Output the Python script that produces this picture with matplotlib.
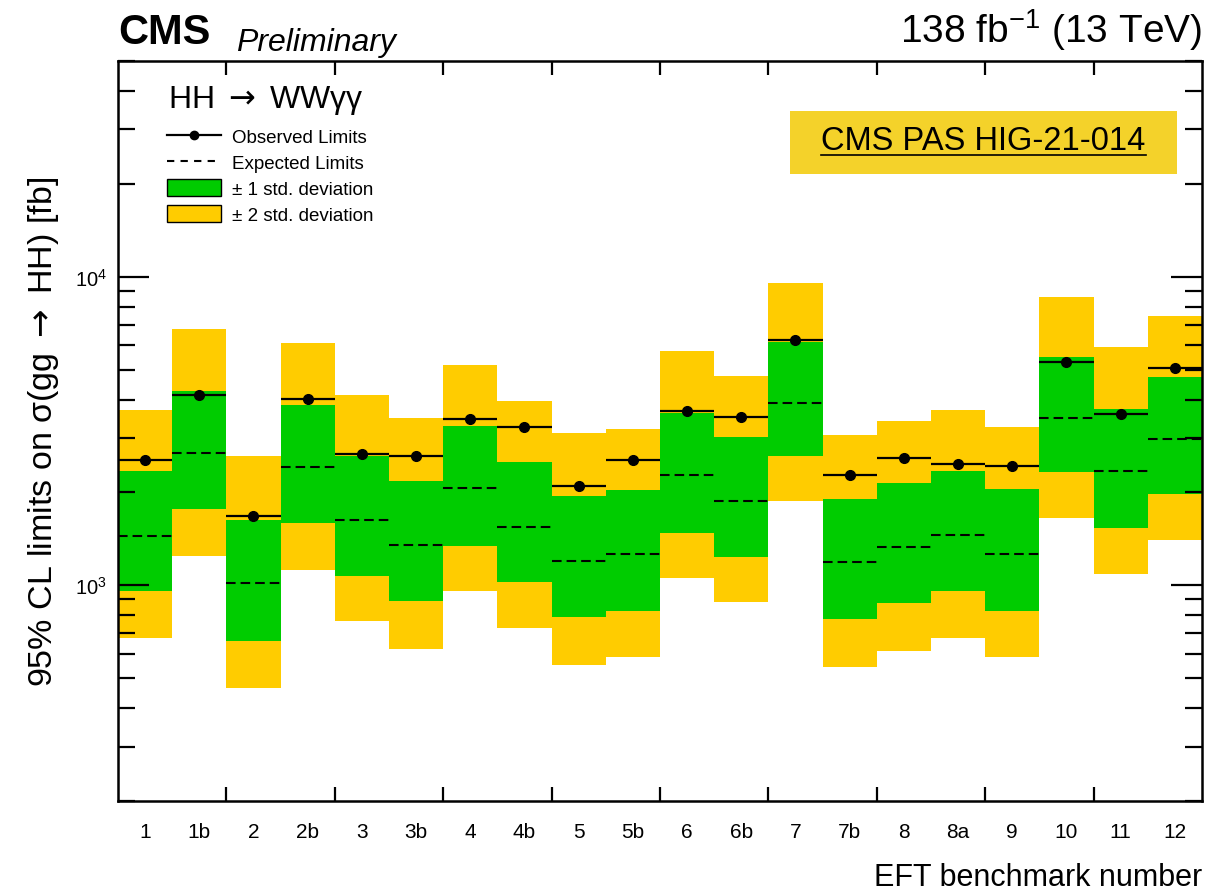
import numpy as np
import matplotlib
matplotlib.use('Agg')
from matplotlib import pyplot as plt
from matplotlib.lines import Line2D
from matplotlib.patches import Patch, Rectangle
from matplotlib.ticker import FixedLocator, NullFormatter, LogLocator

plt.rcParams['font.family'] = ['Liberation Sans', 'DejaVu Sans']
plt.rcParams['mathtext.fontset'] = 'custom'
plt.rcParams['mathtext.rm'] = 'Liberation Sans'
plt.rcParams['mathtext.it'] = 'Liberation Sans:italic'
plt.rcParams['mathtext.sf'] = 'DejaVu Sans'

# EFT benchmark limits [fb]
benchmarks = ['1', '1b', '2', '2b', '3', '3b', '4', '4b', '5', '5b',
              '6', '6b', '7', '7b', '8', '8a', '9', '10', '11', '12']
observed = [2540, 4130, 1675, 4010, 2670, 2620, 3450, 3260, 2100, 2540,
            3660, 3500, 6220, 2270, 2590, 2480, 2430, 5290, 3600, 5070]
expected = [1450, 2690, 1020, 2420, 1630, 1350, 2060, 1550, 1200, 1260,
            2270, 1880, 3890, 1190, 1330, 1460, 1260, 3490, 2350, 2990]
one_sigma_lo = [956, 1761, 658, 1594, 1070, 887, 1339, 1023, 790, 828,
                1480, 1233, 2617, 778, 874, 956, 828, 2334, 1531, 1975]
one_sigma_hi = [2345, 4255, 1634, 3841, 2623, 2176, 3292, 2502, 1941, 2034,
                3610, 3024, 6151, 1908, 2139, 2352, 2056, 5514, 3720, 4724]
two_sigma_lo = [675, 1249, 464, 1124, 764, 623, 956, 727, 553, 584,
                1057, 881, 1879, 543, 614, 673, 584, 1650, 1091, 1407]
two_sigma_hi = [3711, 6764, 2623, 6090, 4140, 3477, 5157, 3949, 3108, 3219,
                5738, 4785, 9539, 3062, 3407, 3711, 3258, 8575, 5912, 7436]

GREEN = '#00cc00'
YELLOW = '#ffcc00'
ARROW = r'$\mathsf{\rightarrow}$'

n = len(benchmarks)
edges = np.arange(n + 1)
centers = edges[:-1] + 0.5

fig = plt.figure(figsize=(12.25, 8.95), dpi=100)
ax = fig.add_axes([0.0963, 0.1039, 0.8849, 0.8268])

# bands
ax.stairs(two_sigma_hi, edges, baseline=two_sigma_lo, fill=True, color=YELLOW, lw=0)
ax.stairs(one_sigma_hi, edges, baseline=one_sigma_lo, fill=True, color=GREEN, lw=0)

# expected and observed
ax.hlines(expected, edges[:-1], edges[1:], colors='k', lw=1.5, linestyles=(0, (4.6, 2.4)))
ax.hlines(observed, edges[:-1], edges[1:], colors='k', lw=1.6)
ax.plot(centers, observed, 'o', color='k', ms=7)

ax.set_yscale('log')
ax.set_ylim(200, 50000)
ax.set_xlim(0, n)

# axis ticks, ROOT style (inward on all sides)
ax.xaxis.set_major_locator(FixedLocator(edges[2:-1:2]))
ax.xaxis.set_major_formatter(NullFormatter())
ax.set_xticks(centers, benchmarks, minor=True)
ax.tick_params(axis='x', which='major', direction='in', length=10, width=1.6,
               top=True, bottom=True)
ax.tick_params(axis='x', which='minor', length=0, pad=15, labelsize=15)
ax.yaxis.set_minor_locator(LogLocator(base=10, subs=np.arange(2, 10)))
ax.yaxis.set_minor_formatter(NullFormatter())
ax.tick_params(axis='y', which='major', direction='in', length=22, width=1.6,
               left=True, right=True, pad=8, labelsize=14.5)
ax.tick_params(axis='y', which='minor', direction='in', length=12, width=1.6,
               left=True, right=True)
for s in ax.spines.values():
    s.set_linewidth(1.8)

ax.set_ylabel('95% CL limits on σ(gg ' + ARROW + ' HH) [fb]', fontsize=24.5, labelpad=10)
ax.set_xlabel('EFT benchmark number', fontsize=22, loc='right', labelpad=15)

# header
ax.text(0.0, 1.012, 'CMS', transform=ax.transAxes, fontsize=30, fontweight='bold',
        ha='left', va='bottom')
ax.text(0.109, 1.006, 'Preliminary', transform=ax.transAxes, fontsize=23,
        style='italic', ha='left', va='bottom')
ax.text(1.0, 1.012, r'138 fb$^{-1}$ (13 TeV)', transform=ax.transAxes, fontsize=28,
        ha='right', va='bottom')

# process label and legend
ax.text(0.046, 0.948, 'HH ' + ARROW + ' WWγγ', transform=ax.transAxes, fontsize=23,
        ha='left', va='center')
handles = [
    Line2D([], [], color='k', lw=1.6, marker='o', ms=6),
    Line2D([], [], color='k', lw=1.5, linestyle=(0, (3.5, 3.0))),
    Patch(facecolor=GREEN, edgecolor='k', lw=1.0),
    Patch(facecolor=YELLOW, edgecolor='k', lw=1.0),
]
labels = ['Observed Limits', 'Expected Limits', '± 1 std. deviation', '± 2 std. deviation']
ax.legend(handles, labels, loc='upper left', bbox_to_anchor=(0.045, 0.910),
          frameon=False, fontsize=13.5, handlelength=2.9, handleheight=0.96,
          labelspacing=0.39, borderpad=0, borderaxespad=0, handletextpad=0.6)

# publication tag
ax.add_patch(Rectangle((0.62, 0.847), 0.357, 0.086, transform=ax.transAxes,
                       facecolor='#f4d22a', edgecolor='none', zorder=5))
tag = ax.text(0.7985, 0.892, 'CMS PAS HIG-21-014', transform=ax.transAxes,
              fontsize=23.5, ha='center', va='center', zorder=6)
fig.canvas.draw()
bb = tag.get_window_extent().transformed(ax.transAxes.inverted())
ax.add_line(Line2D([bb.x0, bb.x1], [bb.y0 + 0.002, bb.y0 + 0.002],
                   transform=ax.transAxes, color='k', lw=1.2, zorder=6))

fig.savefig('out.png', dpi=100)
